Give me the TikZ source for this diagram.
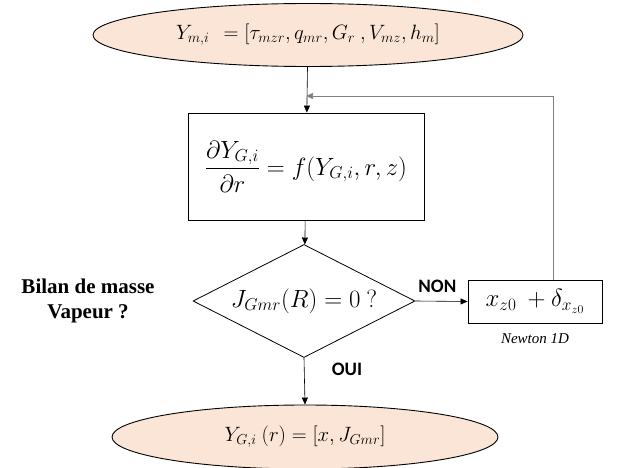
\documentclass[tikz,border=0pt]{standalone}
\usepackage{fontspec}
\usepackage{amsmath}
\usepackage{tikz}
\usetikzlibrary{arrows.meta,positioning,shapes.geometric}
\setmainfont{Liberation Serif}
\newfontfamily\labelfont{Carlito}
\definecolor{peach}{HTML}{FBE5D6}
\definecolor{loopgray}{HTML}{808080}
\tikzset{
  termnode/.style={ellipse, draw=black, fill=peach, line width=0.9pt, inner sep=0pt},
  procbox/.style={rectangle, draw=black, fill=white, line width=0.8pt, inner sep=0pt},
  testnode/.style={diamond, draw=black, fill=white, line width=0.8pt, inner sep=0pt},
  flow/.style={-{Triangle[length=7pt,width=6pt]}, line width=0.6pt},
  branchlbl/.style={font=\labelfont\fontsize{19}{22}\selectfont\bfseries}
}

\begin{document}
\begin{tikzpicture}[x=1pt,y=-1pt]
  \useasboundingbox (0,0) rectangle (630,468);
  \node[termnode, minimum width=430, minimum height=63] (start) at (308,35)
    {\fontsize{20}{24}\selectfont $Y_{m,i}\ \,= [\tau_{mzr}, q_{mr}, G_r\ , V_{mz}, h_m]$};
  \node[procbox, minimum width=236, minimum height=107] (eqbox) at (306,166.5)
    {\fontsize{24}{28}\selectfont $\dfrac{\partial Y_{G,i}}{\partial r} = f(Y_{G,i}, r, z)$};
  \node[testnode, minimum width=222, minimum height=113,
    label={[font=\fontsize{23}{27}\selectfont]center:$J_{Gmr}(R) = 0\ ?$}] (test) at (304,301) {};
  \node[procbox, minimum width=134, minimum height=43] (newton) at (535,301.5)
    {\fontsize{23}{27}\selectfont $x_{z0}\ + \delta_{x_{z0}}$};
  \node[font=\fontsize{15}{18}\selectfont\itshape] (newtonlbl) at (535,339) {Newton 1D};
  \node[termnode, minimum width=386, minimum height=64] (result) at (305,437)
    {\fontsize{20}{24}\selectfont $Y_{G,i}\ (r) = [x, J_{Gmr}]$};
  \node[font=\fontsize{21}{25}\selectfont\bfseries, align=center] (bilan) at (88,301)
    {Bilan de masse\\Vapeur ?};
  % branches
  \draw[flow] (start) -- (eqbox);
  \draw[flow] (eqbox) -- (test);
  \draw[flow] (test.east) -- node[branchlbl, above=5pt, pos=0.42] {NON} (newton.west);
  \draw[flow] (test.south) -- node[branchlbl, right, xshift=24pt, pos=0.25] {OUI} (result.north);
  % retour Newton
  \coordinate (fbtop) at (553,96);
  \draw[flow, draw=loopgray] (newton.north -| fbtop) -- (fbtop) -- (fbtop -| eqbox.north);
\end{tikzpicture}
\end{document}
